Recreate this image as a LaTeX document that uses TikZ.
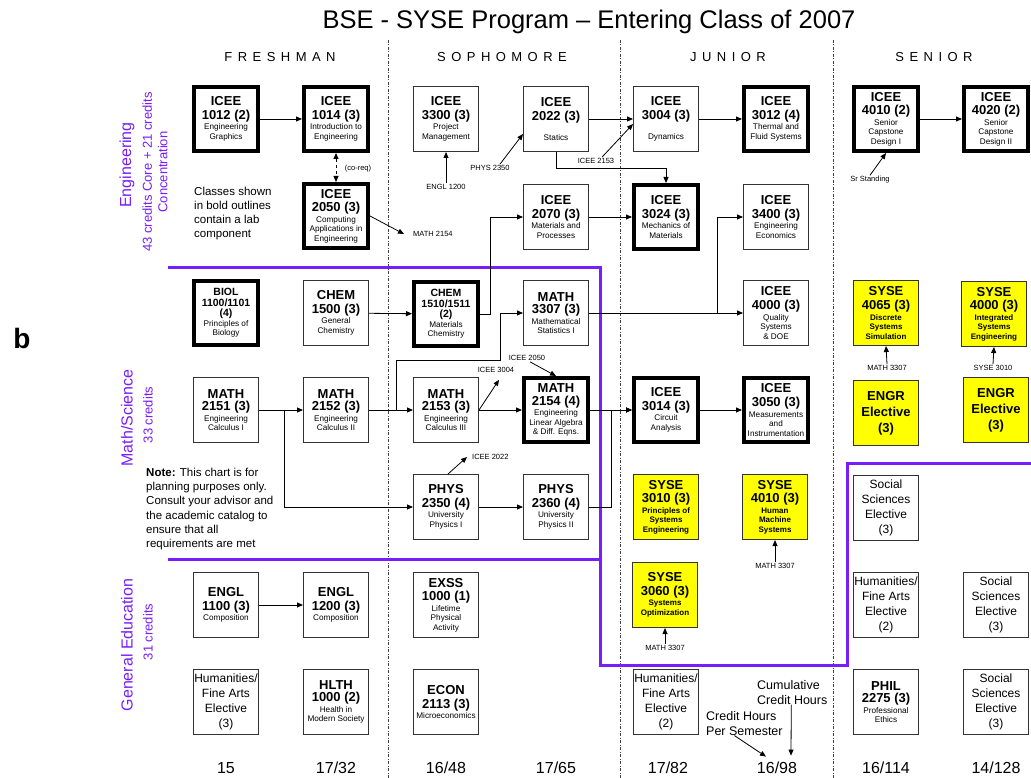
\documentclass[tikz,border=0pt]{standalone}
\usepackage{fontspec}
\setmainfont{Liberation Sans}
\usetikzlibrary{arrows.meta}
\definecolor{purp}{RGB}{120,30,250}
\definecolor{syseyel}{RGB}{255,255,0}
\newcommand{\hd}[1]{{\fontsize{13}{13}\selectfont\bfseries #1}}
\newcommand{\hs}[1]{{\fontsize{10.5}{12}\selectfont\bfseries #1}}
\newcommand{\crs}[3]{\hd{#1}\\[3pt]\hd{#2}\\[1pt]#3}
\tikzset{
  box/.style={draw=black!80, line width=1pt, fill=white, minimum width=65pt, minimum height=65pt,
    inner sep=1pt, align=center, font=\fontsize{8.2}{9.5}\selectfont},
  lab/.style={box, draw=black, line width=4pt, minimum width=64pt, minimum height=64pt},
  sysebox/.style={box, fill=syseyel, font=\fontsize{8}{9.5}\selectfont\bfseries},
  elec/.style={box, font=\fontsize{12}{15}\selectfont},
  engr/.style={box, fill=syseyel, font=\fontsize{13}{16}\selectfont\bfseries},
  arr/.style={-{Triangle[length=6pt,width=5pt]}, line width=0.8pt},
  lbl/.style={font=\fontsize{7.5}{9}\selectfont, inner sep=1pt},
  purpline/.style={draw=purp, line width=3pt},
  sep/.style={draw=black!75, line width=0.8pt, dash pattern=on 3pt off 1.5pt on 1pt off 1.5pt},
  side/.style={rotate=90, text=purp, inner sep=0pt},
  hdr/.style={font=\fontsize{13}{13}\selectfont\addfontfeature{LetterSpace=42}},
  tot/.style={font=\fontsize{16}{16}\selectfont}
}
\begin{document}
\begin{tikzpicture}[x=1pt,y=-1pt]
\fill[white] (0,0) rectangle (1031,778);
\useasboundingbox (0,0) rectangle (1031,778);

% title and headers
\node[font=\fontsize{25.5}{28}\selectfont] (title) at (589,22) {BSE - SYSE Program -- Entering Class of 2007};
\node[hdr] (hfr) at (280,57) {FRESHMAN};
\node[hdr] (hso) at (502,57) {SOPHOMORE};
\node[hdr] (hju) at (728,57) {JUNIOR};
\node[hdr] (hse) at (934,57) {SENIOR};

% separators
\draw[sep] (388,40) -- (388,778);
\draw[sep] (620,40) -- (620,778);
\draw[sep] (833,40) -- (833,778);

% purple region lines
\draw[purpline] (168,268) -- (600,268) -- (600,665) -- (847,665) -- (847,463) -- (1031,463);
\draw[purpline] (168,559) -- (600,559);

% side labels
\node[font=\fontsize{28}{28}\selectfont\bfseries] (bl) at (22,338) {b};
\node[side, font=\fontsize{16}{18}\selectfont] (seng) at (127,165) {Engineering};
\node[side, font=\fontsize{13}{15.5}\selectfont, align=center] (seng2) at (155,172) {43 credits Core + 21 credits\\Concentration};
\node[side, font=\fontsize{16}{18}\selectfont] (smath) at (127,418) {Math/Science};
\node[side, font=\fontsize{13}{15}\selectfont] (smath2) at (148,415) {33 credits};
\node[side, font=\fontsize{16}{18}\selectfont] (sgen) at (127,645) {General Education};
\node[side, font=\fontsize{13}{15}\selectfont] (sgen2) at (148,632) {31 credits};

% notes
\node[anchor=north west, inner sep=0pt, align=left, font=\fontsize{11.5}{14}\selectfont] (nbold) at (194,187)
  {Classes shown\\in bold outlines\\contain a lab\\component};
\node[anchor=north west, inner sep=0pt, align=left, font=\fontsize{11.5}{14.2}\selectfont] (nnote) at (146,468)
  {\textbf{Note:} This chart is for\\planning purposes only.\\Consult your advisor and\\the academic catalog to\\ensure that all\\requirements are met};

% ---------- Engineering row ----------
\node[lab] (c1012) at (226,119) {\crs{ICEE}{1012 (2)}{Engineering\\Graphics}};
\node[lab] (c1014) at (336,119) {\crs{ICEE}{1014 (3)}{Introduction to\\Engineering}};
\node[lab] (c2050) at (336,216) {\crs{ICEE}{2050 (3)}{Computing\\Applications in\\Engineering}};
\node[box] (c3300) at (446,119) {\crs{ICEE}{3300 (3)}{Project\\Management}};
\node[box] (c2022) at (556,119) {\crs{ICEE}{2022 (3)}{\mbox{}\\Statics}};
\node[box] (c2070) at (556,217) {\crs{ICEE}{2070 (3)}{Materials and\\Processes}};
\node[box] (c3004) at (666,119) {\crs{ICEE}{3004 (3)}{\mbox{}\\Dynamics}};
\node[lab] (c3012) at (776,119) {\crs{ICEE}{3012 (4)}{Thermal and\\Fluid Systems}};
\node[lab] (c3024) at (666,217) {\crs{ICEE}{3024 (3)}{Mechanics of\\Materials}};
\node[box] (c3400) at (776,217) {\crs{ICEE}{3400 (3)}{Engineering\\Economics}};
\node[lab] (c4010) at (886,119) {\crs{ICEE}{4010 (2)}{Senior\\Capstone\\Design I}};
\node[lab] (c4020) at (996,119) {\crs{ICEE}{4020 (2)}{Senior\\Capstone\\Design II}};

% ---------- Math/Science rows ----------
\node[lab] (biol) at (226,313) {\hs{BIOL}\\[1pt]\hs{1100/1101}\\[1pt]\hs{(4)}\\Principles of\\Biology};
\node[box] (ch1500) at (336,313) {\crs{CHEM}{1500 (3)}{General\\Chemistry}};
\node[lab] (ch1510) at (446,314) {\hs{CHEM}\\[1pt]\hs{1510/1511}\\[1pt]\hs{(2)}\\Materials\\Chemistry};
\node[box] (m3307) at (556,313) {\crs{MATH}{3307 (3)}{Mathematical\\Statistics I}};
\node[box] (c4000) at (776,313) {\crs{ICEE}{4000 (3)}{Quality\\Systems\\\& DOE}};
\node[sysebox] (s4065) at (886,313) {\crs{SYSE}{4065 (3)}{Discrete\\Systems\\Simulation}};
\node[sysebox] (s4000) at (994,314) {\crs{SYSE}{4000 (3)}{Integrated\\Systems\\Engineering}};

\node[box] (m2151) at (226,410) {\crs{MATH}{2151 (3)}{Engineering\\Calculus I}};
\node[box] (m2152) at (336,410) {\crs{MATH}{2152 (3)}{Engineering\\Calculus II}};
\node[box] (m2153) at (446,410) {\crs{MATH}{2153 (3)}{Engineering\\Calculus III}};
\node[lab] (m2154) at (556,410) {\crs{MATH}{2154 (4)}{Engineering\\Linear Algebra\\\& Diff. Eqns.}};
\node[lab] (c3014) at (666,410) {\crs{ICEE}{3014 (3)}{Circuit\\Analysis}};
\node[lab] (c3050) at (776,410) {\crs{ICEE}{3050 (3)}{Measurements\\and\\Instrumentation}};
\node[engr] (engr1) at (886,413) {ENGR\\Elective\\(3)};
\node[engr] (engr2) at (996,410) {ENGR\\Elective\\(3)};

\node[box] (p2350) at (446,507) {\crs{PHYS}{2350 (4)}{University\\Physics I}};
\node[box] (p2360) at (556,507) {\crs{PHYS}{2360 (4)}{University\\Physics II}};
\node[sysebox] (s3010) at (666,507) {\crs{SYSE}{3010 (3)}{Principles of\\Systems\\Engineering}};
\node[sysebox] (s4010) at (775,507) {\crs{SYSE}{4010 (3)}{Human\\Machine\\Systems}};
\node[elec] (ss1) at (886,508) {Social\\Sciences\\Elective\\(3)};

% ---------- General Education rows ----------
\node[box] (e1100) at (226,605) {\crs{ENGL}{1100 (3)}{Composition}};
\node[box] (e1200) at (336,605) {\crs{ENGL}{1200 (3)}{Composition}};
\node[box] (x1000) at (446,605) {\crs{EXSS}{1000 (1)}{Lifetime\\Physical\\Activity}};
\node[sysebox] (s3060) at (665,595) {\crs{SYSE}{3060 (3)}{Systems\\Optimization}};
\node[elec] (hum3) at (886,605) {Humanities/\\Fine Arts\\Elective\\(2)};
\node[elec] (ss2) at (996,605) {Social\\Sciences\\Elective\\(3)};

\node[elec] (hum1) at (226,702) {Humanities/\\Fine Arts\\Elective\\(3)};
\node[box] (h1000) at (336,702) {\crs{HLTH}{1000 (2)}{Health in\\Modern Society}};
\node[box] (ec2113) at (446,702) {\crs{ECON}{2113 (3)}{Microeconomics}};
\node[elec] (hum2) at (666,702) {Humanities/\\Fine Arts\\Elective\\(2)};
\node[box] (phil) at (886,702) {\crs{PHIL}{2275 (3)}{Professional\\Ethics}};
\node[elec] (ss3) at (996,702) {Social\\Sciences\\Elective\\(3)};

% ---------- small labels ----------
\node[lbl] (lcoreq) at (358,169) {(co-req)};
\node[lbl, anchor=west] (lm2154) at (412,234) {MATH 2154};
\node[lbl] (le1200) at (446,187) {ENGL 1200};
\node[lbl] (lp2350) at (490,168) {PHYS 2350};
\node[lbl] (l2153) at (596,161) {ICEE 2153};
\node[lbl] (lsr) at (870,180) {Sr Standing};
\node[lbl] (l3004b) at (496,370) {ICEE 3004};
\node[lbl] (l2050b) at (527,358) {ICEE 2050};
\node[lbl, anchor=west] (l2022b) at (471,457) {ICEE 2022};
\node[lbl] (lm3307a) at (887,368) {MATH 3307};
\node[lbl] (ls3010) at (993,368) {SYSE 3010};
\node[lbl] (lm3307b) at (775,566) {MATH 3307};
\node[lbl] (lm3307c) at (665,648) {MATH 3307};

% ---------- connectors ----------
\draw[arr] (c1012) -- (c1014);
\draw[{Triangle[length=6pt,width=5pt]}-{Triangle[length=6pt,width=5pt]}, line width=0.8pt, dashed] (c1014.south) -- (c2050.north);
\draw[arr] (c2050.east) -- ([xshift=-8pt]lm2154.west);
\draw[arr] (le1200.north) -- (c3300.south);
\draw[arr] ([xshift=10pt]lp2350.north) -- ([yshift=-15pt]c2022.west);
\draw[arr] (c2022) -- (c3004);
\draw[arr] ([xshift=6pt]l2153.north) -- ([yshift=-5pt]c3004.west);
\draw[arr] (c2022.south) -- ++(0,16) -| (c3024.north);
\draw[arr] (ch1510.east) -- ++(10,0) |- (c2070.west);
\draw[arr] (c2070) -- (c3024);
\draw[arr] (c3004) -- (c3012);
\draw[arr] (m3307.east) -- (c4000.west);
\draw[arr] (m3307.east) -- ++(128,0) |- (c3400.west);
\draw[arr] (c4010) -- (c4020);
\draw[arr] (lsr.north) -- (c4010.south);

\draw[arr] (ch1500) -- (ch1510);
\draw[arr] (m2151) -- (m2152);
\draw[arr] ([xshift=25pt]m2151.east) |- (p2350.west);
\draw[arr] (m2152) -- (m2153);
\draw[arr] ([xshift=27pt]m2152.east) -- ++(0,-50) -- ++(104,0) |- (m3307.west);
\draw[arr] (m2153) -- (m2154);
\draw[arr] (m2153.east) -- ([xshift=3pt,yshift=-6pt]l3004b.south);
\draw[arr] ([xshift=3pt]l2050b.south) -- (m2154.north);
\draw[arr] (m2154) -- (c3014);
\draw[arr] (p2350) -- (p2360);
\draw[arr] (p2360.east) -- ++(22,0) |- (c3014.west);
\draw[arr] ([xshift=2pt]p2350.north) -- ([xshift=-4pt]l2022b.west);
\draw[arr] (c3014) -- (c3050);
\draw[arr] (lm3307a.north) -- (s4065.south);
\draw[arr] (ls3010.north) -- (s4000.south);
\draw[arr] (lm3307b.north) -- (s4010.south);
\draw[arr] (lm3307c.north) -- (s3060.south);

\draw[arr] (e1100) -- (e1200);

% ---------- credit totals ----------
\node[tot] (t1) at (226,768) {15};
\node[tot] (t2) at (336,768) {17/32};
\node[tot] (t3) at (446,768) {16/48};
\node[tot] (t4) at (556,768) {17/65};
\node[tot] (t5) at (668,768) {17/82};
\node[tot] (t6) at (777,768) {16/98};
\node[tot] (t7) at (886,768) {16/114};
\node[tot] (t8) at (996,768) {14/128};

\node[anchor=north west, inner sep=0pt, align=left, font=\fontsize{12.5}{15}\selectfont] (lcum) at (757,680) {Cumulative\\Credit Hours};
\node[anchor=north west, inner sep=0pt, align=left, font=\fontsize{12.5}{15}\selectfont] (lcph) at (706,711) {Credit Hours\\Per Semester};
\draw[arr] ([xshift=-1pt]lcum.south) -- ([xshift=14pt,yshift=3pt]t6.north);
\draw[arr] ([xshift=-10pt]lcph.south) -- ([xshift=-11pt,yshift=2pt]t6.north);
\end{tikzpicture}
\end{document}
